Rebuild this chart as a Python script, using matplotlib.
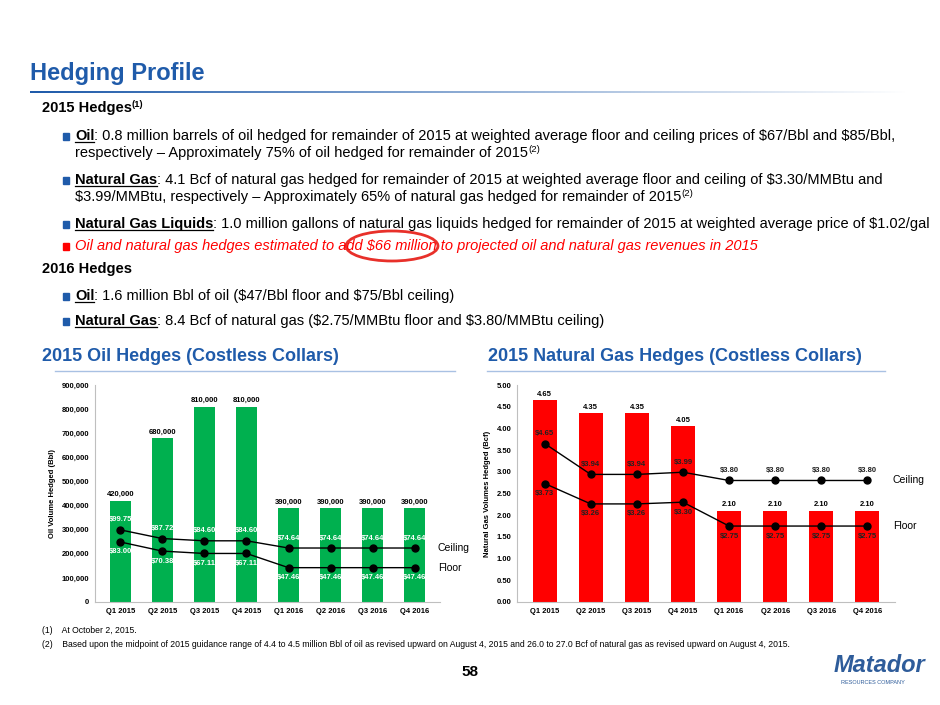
import numpy as np
import matplotlib.pyplot as plt
from matplotlib.patches import Ellipse, Rectangle

plt.rcParams['font.family'] = ['Liberation Sans', 'DejaVu Sans']

quarters = ['Q1 2015', 'Q2 2015', 'Q3 2015', 'Q4 2015', 'Q1 2016', 'Q2 2016', 'Q3 2016', 'Q4 2016']
oil_volume = [420000, 680000, 810000, 810000, 390000, 390000, 390000, 390000]
oil_ceiling = [99.75, 87.72, 84.60, 84.60, 74.64, 74.64, 74.64, 74.64]
oil_floor = [83.00, 70.38, 67.11, 67.11, 47.46, 47.46, 47.46, 47.46]
gas_volume = [4.65, 4.35, 4.35, 4.05, 2.10, 2.10, 2.10, 2.10]
gas_ceiling = [4.65, 3.94, 3.94, 3.99, 3.80, 3.80, 3.80, 3.80]
gas_floor = [3.73, 3.26, 3.26, 3.30, 2.75, 2.75, 2.75, 2.75]

BLUE = '#1F5BAA'
W, H = 940, 705
fig = plt.figure(figsize=(9.4, 7.05), dpi=100)
fig.canvas.draw()
renderer = fig.canvas.get_renderer()


def fx(px):
    return px / W


def fy(py):
    return 1 - py / H


def runs(x, y, parts, size=10.5):
    # parts: (text, color, weight, style, underline); '^' prefix = superscript
    cx = x
    for txt, color, weight, style, ul in parts:
        sup = txt.startswith('^')
        if sup:
            txt = txt[1:]
        t = fig.text(fx(cx), fy(y - 5 if sup else y), txt, color=color,
                     fontsize=size * 0.65 if sup else size, fontweight=weight,
                     fontstyle=style, va='baseline', ha='left', parse_math=False)
        bb = t.get_window_extent(renderer)
        if ul:
            fig.add_artist(plt.Line2D([fx(cx), fx(cx + bb.width)], [fy(y + 2), fy(y + 2)],
                                      color=color, lw=0.9))
        cx += bb.width


def bullet(y, color=BLUE):
    fig.add_artist(Rectangle((fx(63), fy(y)), fx(6), 7 / H, color=color, transform=fig.transFigure))


# title
fig.text(fx(30), fy(80), 'Hedging Profile', color=BLUE, fontsize=17, fontweight='bold', va='baseline')
grad = np.linspace(0, 1, 256).reshape(1, -1)
ax_line = fig.add_axes([fx(30), fy(93), fx(880), 2.5 / H])
ax_line.imshow(grad, aspect='auto', cmap=plt.matplotlib.colors.LinearSegmentedColormap.from_list('g', [BLUE, '#FFFFFF']))
ax_line.axis('off')

K = 'black'
N = 'normal'
runs(42, 112, [('2015 Hedges', K, 'bold', N, False), ('^(1)', K, 'bold', N, False)])
bullet(140)
runs(75, 140, [('Oil', K, 'bold', N, True), (': 0.8 million barrels of oil hedged for remainder of 2015 at weighted average floor and ceiling prices of $67/Bbl and $85/Bbl,', K, N, N, False)])
runs(75, 157, [('respectively \u2013 Approximately 75% of oil hedged for remainder of 2015', K, N, N, False), ('^(2)', K, N, N, False)])
bullet(184)
runs(75, 184, [('Natural Gas', K, 'bold', N, True), (': 4.1 Bcf of natural gas hedged for remainder of 2015 at weighted average floor and ceiling of $3.30/MMBtu and', K, N, N, False)])
runs(75, 201, [('$3.99/MMBtu, respectively \u2013 Approximately 65% of natural gas hedged for remainder of 2015', K, N, N, False), ('^(2)', K, N, N, False)])
bullet(228)
runs(75, 228, [('Natural Gas Liquids', K, 'bold', N, True), (': 1.0 million gallons of natural gas liquids hedged for remainder of 2015 at weighted average price of $1.02/gal', K, N, N, False)])
bullet(250, 'red')
runs(75, 250, [('Oil and natural gas hedges estimated to add $66 million to projected oil and natural gas revenues in 2015', 'red', N, 'italic', False)])
fig.add_artist(Ellipse((fx(392), fy(246)), fx(92), 30 / H, fill=False, ec='#E8302A', lw=2, transform=fig.transFigure))
runs(42, 273, [('2016 Hedges', K, 'bold', N, False)])
bullet(300)
runs(75, 300, [('Oil', K, 'bold', N, True), (': 1.6 million Bbl of oil ($47/Bbl floor and $75/Bbl ceiling)', K, N, N, False)])
bullet(325)
runs(75, 325, [('Natural Gas', K, 'bold', N, True), (': 8.4 Bcf of natural gas ($2.75/MMBtu floor and $3.80/MMBtu ceiling)', K, N, N, False)])

fig.text(fx(42), fy(361), '2015 Oil Hedges (Costless Collars)', color=BLUE, fontsize=13, fontweight='bold', va='baseline')
fig.text(fx(488), fy(361), '2015 Natural Gas Hedges (Costless Collars)', color=BLUE, fontsize=13, fontweight='bold', va='baseline')
for x0, x1 in [(55, 455), (487, 885)]:
    fig.add_artist(plt.Line2D([fx(x0), fx(x1)], [fy(371), fy(371)], color='#A9C1E3', lw=1))


def collar_chart(rect, vols, ceil, floor, color, lab_color, ylim, step, yfmt, vfmt, ylabel, plim, bw):
    ax = fig.add_axes(rect)
    x = np.arange(len(quarters))
    ax.bar(x, vols, width=bw, color=color, zorder=2)
    for xi, v in zip(x, vols):
        ax.text(xi, v + ylim * 0.012, vfmt(v), ha='center', va='bottom', fontsize=5.5, fontweight='bold')
    ax.set_ylim(0, ylim)
    ax.set_yticks(np.arange(0, ylim + step / 2, step))
    ax.set_yticklabels([yfmt(v) for v in np.arange(0, ylim + step / 2, step)], fontsize=5.5, fontweight='bold')
    ax.set_xticks(x)
    ax.set_xticklabels(quarters, fontsize=5.5, fontweight='bold')
    ax.set_xlim(-0.6, len(quarters) - 0.4)
    ax.set_ylabel(ylabel, fontsize=5.5, fontweight='bold')
    for s in ['top', 'right']:
        ax.spines[s].set_visible(False)
    for s in ['left', 'bottom']:
        ax.spines[s].set_color('#BFBFBF')
    ax.tick_params(length=0, pad=4)
    ax2 = ax.twinx()
    ax2.set_ylim(*plim)
    ax2.axis('off')
    ax2.plot(x, ceil, '-o', color='black', ms=5, lw=1)
    ax2.plot(x, floor, '-o', color='black', ms=5, lw=1)
    span = plim[1] - plim[0]
    for xi, c, f in zip(x, ceil, floor):
        ax2.text(xi, c + span * 0.03, f'${c:.2f}', ha='center', va='bottom', fontsize=5.5, fontweight='bold', color=lab_color)
        ax2.text(xi, f - span * 0.03, f'${f:.2f}', ha='center', va='top', fontsize=5.5, fontweight='bold', color=lab_color)
    ax2.text(len(quarters) - 0.45, ceil[-1], 'Ceiling', fontsize=7.5, va='center', ha='left')
    ax2.text(len(quarters) - 0.45, floor[-1], 'Floor', fontsize=7.5, va='center', ha='left')
    return ax


collar_chart([fx(95), fy(602), fx(345), (602 - 385) / H], oil_volume, oil_ceiling, oil_floor,
             '#00B04F', 'white', 900000, 100000, lambda v: f'{int(v):,}', lambda v: f'{v:,}',
             'Oil Volume Hedged (Bbl)', (0, 300), 0.5)
collar_chart([fx(517), fy(602), fx(378), (602 - 385) / H], gas_volume, gas_ceiling, gas_floor,
             'red', '#222222', 5.0, 0.5, lambda v: f'{v:.2f}', lambda v: f'{v:.2f}',
             'Natural Gas Volumes Hedged (Bcf)', (1, 6), 0.52)

fig.text(fx(42), fy(633), '(1)    At October 2, 2015.', fontsize=6.2, va='baseline')
fig.text(fx(42), fy(647), '(2)    Based upon the midpoint of 2015 guidance range of 4.4 to 4.5 million Bbl of oil as revised upward on August 4, 2015 and 26.0 to 27.0 Bcf of natural gas as revised upward on August 4, 2015.',
         fontsize=6.2, va='baseline')
fig.text(0.5, fy(676), '58', fontsize=11, fontweight='bold', ha='center', va='baseline')
fig.text(fx(925), fy(672), 'Matador', color='#2E5C9A', fontsize=17, fontweight='bold', fontstyle='italic', ha='right', va='baseline')
fig.text(fx(905), fy(684), 'RESOURCES COMPANY', color='#2E5C9A', fontsize=4, ha='right', va='baseline')

fig.savefig('out.png', dpi=100)
